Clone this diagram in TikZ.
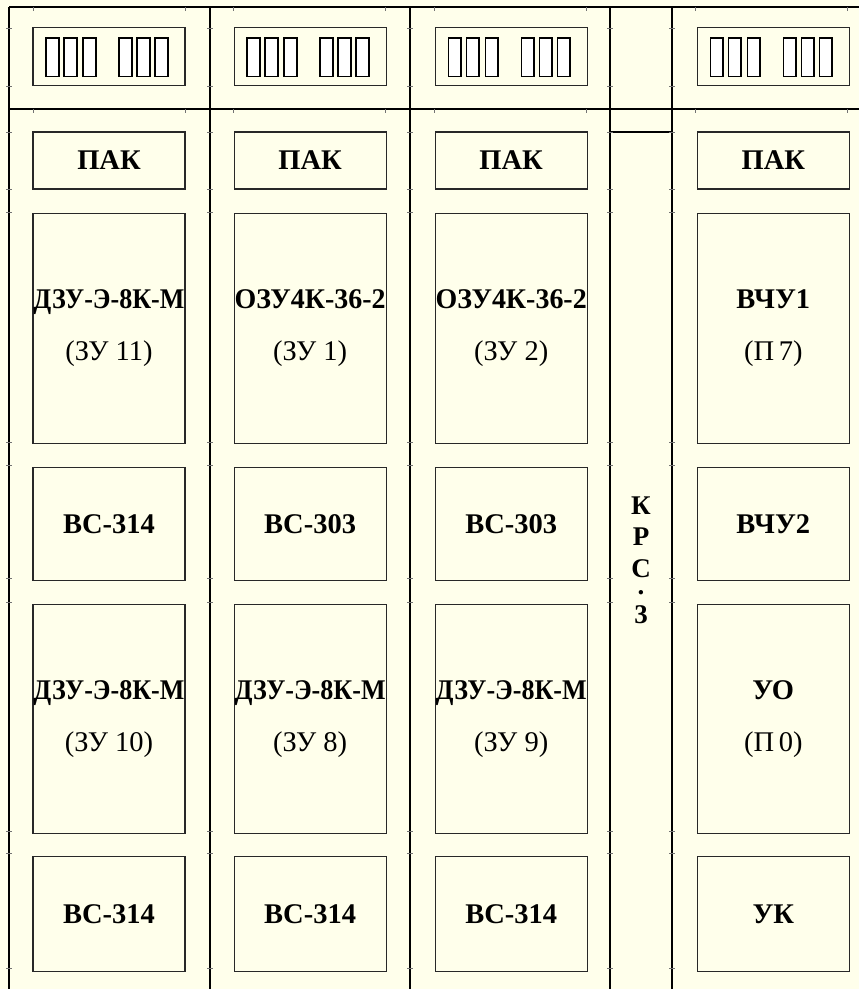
\documentclass[tikz,border=0pt]{standalone}
\usepackage{graphicx}
\usepackage{fontspec}
\setmainfont{Liberation Serif}
\usetikzlibrary{positioning}

\definecolor{paper}{RGB}{255,255,235}
\definecolor{edge}{RGB}{40,40,40}

\newcommand\fitline[1]{\resizebox{151pt}{\height}{#1}}

\begin{document}
\begin{tikzpicture}[
  x=1pt, y=-1pt,
  node distance=23pt and 48pt,
  unit/.style={draw=edge, line width=1.1pt, minimum width=152pt, inner sep=0pt, align=center,
    font=\fontsize{28.5pt}{52pt}\selectfont\bfseries},
  frame/.style={line width=2pt},
  slot/.style={draw, line width=1.8pt, fill=white},
  tick/.style={draw=black!55, line width=0.8pt}
]

% Background
\fill[paper] (0,0) rectangle (859,989);
\useasboundingbox (0,0) rectangle (859,989);

% Frame
\draw[frame] (9,7) -- (859,7);
\draw[frame] (9,109) -- (859,109);
\foreach \x in {9,210,410,610,672}
  \draw[frame] (\x,7) -- (\x,989);
\draw[frame] (610,132) -- (672,132);

% Ticks
\foreach \x in {9,210,410,610,672}
  \foreach \y in {28,86,132,189,212,442,465,578,602,831,853,968}
    \draw[tick] (\x-3,\y) -- (\x+3,\y);
\foreach \x in {33,185,233,385,434,586,695,847}
  \foreach \y in {7,109}
    \draw[tick] (\x,\y) -- (\x,\y+4);

% Nodes
\node[unit, minimum height=57pt] (p1) at (109,160.5) {ПАК};
\node[unit, minimum height=57pt, right=of p1] (p2) {ПАК};
\node[unit, minimum height=57pt, right=of p2] (p3) {ПАК};
\node[unit, minimum height=57pt, right=109pt of p3] (p5) {ПАК};

\node[unit, minimum height=58pt, above=45pt of p1] (t1) {};
\node[unit, minimum height=58pt, above=45pt of p2] (t2) {};
\node[unit, minimum height=58pt, above=45pt of p3] (t3) {};
\node[unit, minimum height=58pt, above=45pt of p5] (t5) {};

\node[unit, minimum height=230pt, below=of p1] (m1) {\fitline{ДЗУ-Э-8К-М}\\{\mdseries(ЗУ 11)}};
\node[unit, minimum height=230pt, below=of p2] (m2) {\fitline{ОЗУ4К-36-2}\\{\mdseries(ЗУ 1)}};
\node[unit, minimum height=230pt, below=of p3] (m3) {\fitline{ОЗУ4К-36-2}\\{\mdseries(ЗУ 2)}};
\node[unit, minimum height=230pt, below=of p5] (m5) {ВЧУ1\\{\mdseries(П\,7)}};

\node[unit, minimum height=113pt, below=of m1] (v1) {ВС-314};
\node[unit, minimum height=113pt, below=of m2] (v2) {ВС-303};
\node[unit, minimum height=113pt, below=of m3] (v3) {ВС-303};
\node[unit, minimum height=113pt, below=of m5] (v5) {ВЧУ2};

\node[unit, minimum height=229pt, below=of v1] (d1) {\fitline{ДЗУ-Э-8К-М}\\{\mdseries(ЗУ 10)}};
\node[unit, minimum height=229pt, below=of v2] (d2) {\fitline{ДЗУ-Э-8К-М}\\{\mdseries(ЗУ 8)}};
\node[unit, minimum height=229pt, below=of v3] (d3) {\fitline{ДЗУ-Э-8К-М}\\{\mdseries(ЗУ 9)}};
\node[unit, minimum height=229pt, below=of v5] (d5) {УО\\{\mdseries(П\,0)}};

\node[unit, minimum height=115pt, below=22pt of d1] (b1) {ВС-314};
\node[unit, minimum height=115pt, below=22pt of d2] (b2) {ВС-314};
\node[unit, minimum height=115pt, below=22pt of d3] (b3) {ВС-314};
\node[unit, minimum height=115pt, below=22pt of d5] (b5) {УК};

\node[align=center, inner sep=0pt, font=\fontsize{27pt}{31.5pt}\selectfont\bfseries]
  (krs) at (641,560) {К\\Р\\С\\[-14pt].\\[-3pt]3};

% Slots
\foreach \t in {t1,t2,t3,t5}
  \foreach \dx in {13.8,31.8,50.8,86.8,104.8,122.8}
    \draw[slot] ([shift={(\dx,10.8)}]\t.north west) rectangle ++(12.4,38.4);

\end{tikzpicture}
\end{document}
